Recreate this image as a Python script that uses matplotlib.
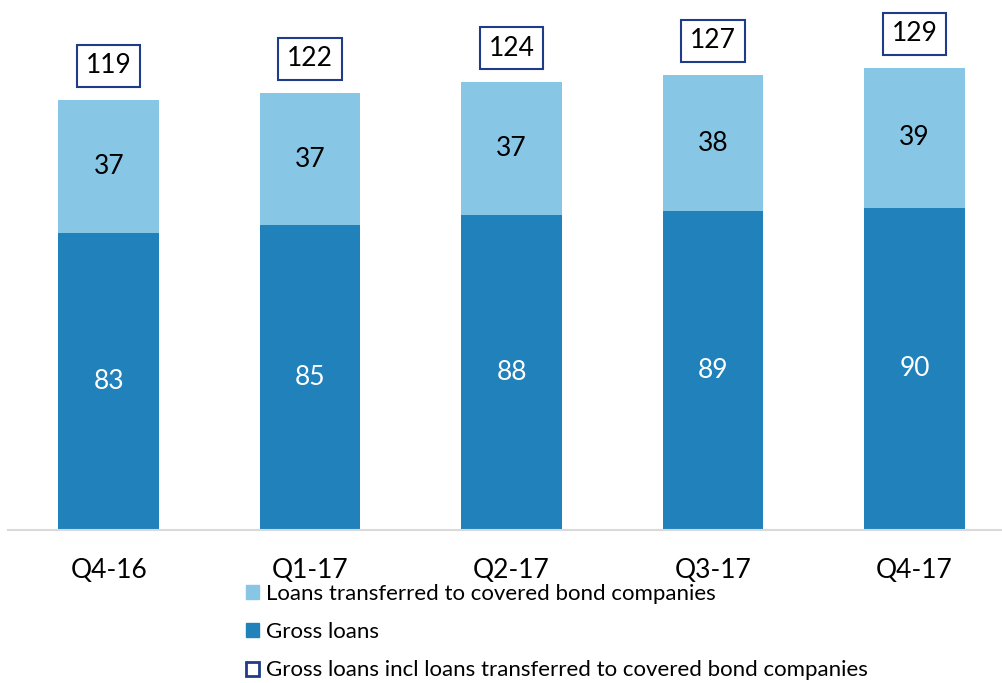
import matplotlib.pyplot as plt
from matplotlib.patches import Patch
import numpy as np

plt.rcParams['font.family'] = ['Lato', 'DejaVu Sans']

quarters = ['Q4-16', 'Q1-17', 'Q2-17', 'Q3-17', 'Q4-17']
gross_loans = [83, 85, 88, 89, 90]
transferred = [37, 37, 37, 38, 39]
totals = [119, 122, 124, 127, 129]

light_blue = '#87C6E5'
dark_blue = '#2081BB'
navy = '#1F3C88'

fig = plt.figure(figsize=(10.02, 6.83), dpi=100)
ax = fig.add_axes([0.008, 1 - 530 / 683, 0.994, 507 / 683])

x = np.arange(len(quarters))
ax.bar(x, gross_loans, width=0.5, color=dark_blue)
ax.bar(x, transferred, width=0.5, bottom=gross_loans, color=light_blue)

for i in x:
    g, t = gross_loans[i], transferred[i]
    ax.text(i, g / 2, str(g), ha='center', va='center', fontsize=19, color='white')
    ax.text(i, g + t / 2, str(t), ha='center', va='center', fontsize=19, color='black')
    ax.text(i, g + t + 9.5, str(totals[i]), ha='center', va='center', fontsize=19,
            bbox=dict(boxstyle='square,pad=0.33', fc='white', ec=navy, lw=1.5))

ax.set_xlim(-0.5, 4.445)
ax.set_ylim(0, 141.5)
ax.set_xticks(x)
ax.set_xticklabels(quarters, fontsize=19)
ax.tick_params(axis='x', length=0, pad=20)
ax.set_yticks([])
for s in ['top', 'right', 'left']:
    ax.spines[s].set_visible(False)
ax.spines['bottom'].set_color('#D9D9D9')
ax.spines['bottom'].set_linewidth(1.5)

handles = [Patch(facecolor=light_blue, edgecolor=light_blue),
           Patch(facecolor=dark_blue, edgecolor=dark_blue),
           Patch(facecolor='white', edgecolor=navy, lw=2)]
labels = ['Loans transferred to covered bond companies', 'Gross loans',
          'Gross loans incl loans transferred to covered bond companies']
fig.legend(handles, labels, loc='upper left', bbox_to_anchor=(246 / 1002, 1 - 584 / 683),
           frameon=False, fontsize=16, handlelength=0.6, handleheight=0.6,
           handletextpad=0.3, labelspacing=0.82, borderpad=0, borderaxespad=0)

fig.savefig('out.png', dpi=100)
